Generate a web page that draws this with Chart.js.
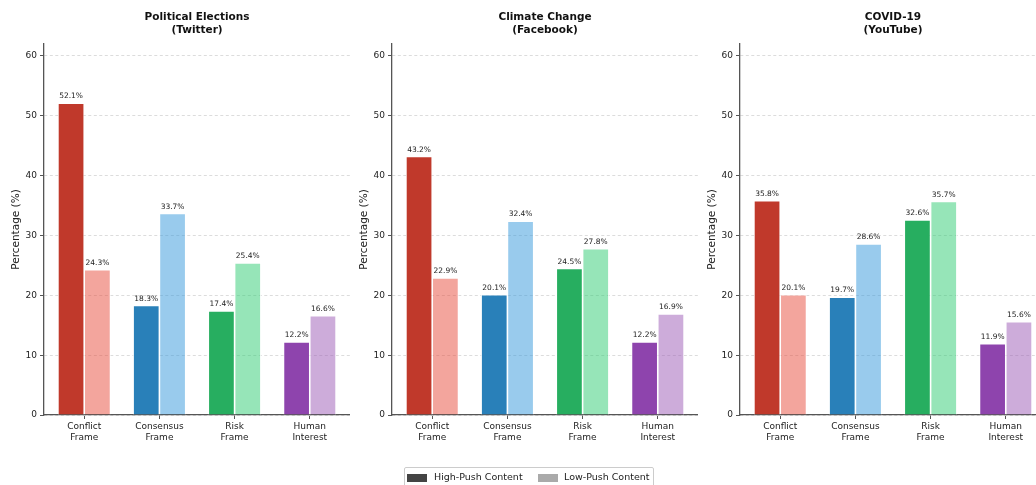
<!DOCTYPE html>
<html>
<head>
<meta charset="utf-8">
<script src="https://cdn.jsdelivr.net/npm/chart.js@4.4.1/dist/chart.umd.min.js"></script>
<style>
  html, body { margin: 0; padding: 0; background: #fff; }
  body { width: 1036px; height: 485px; overflow: hidden; position: relative; font-family: "DejaVu Sans", sans-serif; }
  .panel { position: absolute; top: 0; width: 350px; height: 460px; }
  #legend { position: absolute; left: 404px; top: 467px; width: 248px; height: 22px; border: 1px solid #ccc; border-radius: 2px; font-size: 9.5px; color: #222; }
  #legend span.sw { position: absolute; top: 6px; width: 20px; height: 8px; }
  #legend span.tx { position: absolute; top: 3px; white-space: nowrap; }
</style>
</head>
<body>
<div class="panel" style="left:0px"><canvas id="c0"></canvas></div>
<div class="panel" style="left:348px"><canvas id="c1"></canvas></div>
<div class="panel" style="left:696px"><canvas id="c2"></canvas></div>
<div id="legend">
  <span class="sw" style="left:2px;background:#444"></span><span class="tx" style="left:29px">High-Push Content</span>
  <span class="sw" style="left:133px;background:#aaa"></span><span class="tx" style="left:159px">Low-Push Content</span>
</div>
<script>
// categories and series
const categories = [['Conflict', 'Frame'], ['Consensus', 'Frame'], ['Risk', 'Frame'], ['Human', 'Interest']];
const panelTitles = [['Political Elections', '(Twitter)'], ['Climate Change', '(Facebook)'], ['COVID-19', '(YouTube)']];

const twitterHigh = [52.1, 18.3, 17.4, 12.2];
const twitterLow = [24.3, 33.7, 25.4, 16.6];
const facebookHigh = [43.2, 20.1, 24.5, 12.2];
const facebookLow = [22.9, 32.4, 27.8, 16.9];
const youtubeHigh = [35.8, 19.7, 32.6, 11.9];
const youtubeLow = [20.1, 28.6, 35.7, 15.6];

const yTicks = [0, 10, 20, 30, 40, 50, 60];

const highColors = ['#c0392b', '#2980b9', '#27ae60', '#8e44ad'];
const lowColors = ['rgba(231,76,60,0.5)', 'rgba(52,152,219,0.5)', 'rgba(46,204,113,0.5)', 'rgba(155,89,182,0.5)'];

const font = 'DejaVu Sans';

// draws the "xx.x%" labels above each bar
const valueLabels = {
  id: 'valueLabels',
  afterDatasetsDraw(chart) {
    const ctx = chart.ctx;
    ctx.save();
    ctx.font = '7.5px "' + font + '"';
    ctx.fillStyle = '#222';
    ctx.textAlign = 'center';
    ctx.textBaseline = 'bottom';
    chart.data.datasets.forEach((ds, i) => {
      chart.getDatasetMeta(i).data.forEach((bar, j) => {
        ctx.fillText(ds.data[j].y.toFixed(1) + '%', bar.x, bar.y - 3);
      });
    });
    ctx.restore();
  }
};

// two-line bold title centred over the plot area
const panelTitle = {
  id: 'panelTitle',
  afterDraw(chart, args, opts) {
    const ctx = chart.ctx;
    const cx = (chart.chartArea.left + chart.chartArea.right) / 2;
    ctx.save();
    ctx.font = 'bold 10.5px "' + font + '"';
    ctx.fillStyle = '#111';
    ctx.textAlign = 'center';
    ctx.textBaseline = 'middle';
    opts.lines.forEach((t, i) => ctx.fillText(t, cx, 17 + i * 13));
    ctx.restore();
  }
};

function toPoints(values) {
  return values.map((v, i) => ({ x: i, y: v }));
}

function makeChart(id, title, high, low) {
  return new Chart(document.getElementById(id), {
    type: 'bar',
    data: {
      datasets: [
        { label: 'High-Push Content', data: toPoints(high), backgroundColor: highColors, borderColor: '#fff', borderWidth: 0.8 },
        { label: 'Low-Push Content', data: toPoints(low), backgroundColor: lowColors, borderColor: '#fff', borderWidth: 0.8 }
      ]
    },
    options: {
      responsive: true,
      maintainAspectRatio: false,
      animation: false,
      layout: { padding: { left: 0, right: 0, top: 44, bottom: 0 } },
      datasets: { bar: { categoryPercentage: 0.7, barPercentage: 1.0 } },
      plugins: {
        legend: { display: false },
        tooltip: { enabled: false },
        title: { display: false },
        panelTitle: { lines: title }
      },
      scales: {
        x: {
          type: 'linear',
          min: -0.535,
          max: 3.535,
          offset: false,
          afterFit: s => { s.height = 45; },
          afterBuildTicks: s => { s.ticks = categories.map((c, i) => ({ value: i })); },
          grid: { display: true, offset: false, drawOnChartArea: false, drawTicks: true, tickLength: 4, tickColor: '#555' },
          border: { display: true, color: '#555', width: 1.3 },
          ticks: {
            color: '#222',
            font: { family: font, size: 9, lineHeight: 1.2 },
            padding: 2,
            maxRotation: 0,
            autoSkip: false,
            callback: v => categories[v]
          }
        },
        y: {
          min: 0,
          max: 62,
          afterFit: s => { s.width = 44; },
          afterBuildTicks: s => { s.ticks = yTicks.map(v => ({ value: v })); },
          grid: { color: '#dcdcdc', tickColor: '#555', tickLength: 4, tickBorderDash: [] },
          border: { display: true, color: '#555', width: 1.3, dash: [3, 2.5] },
          ticks: { color: '#222', font: { family: font, size: 9 }, padding: 3 },
          title: { display: true, text: 'Percentage (%)', color: '#222', font: { family: font, size: 10.5 }, padding: { top: 10, bottom: 0 } }
        }
      }
    },
    plugins: [valueLabels, panelTitle]
  });
}

makeChart('c0', panelTitles[0], twitterHigh, twitterLow);
makeChart('c1', panelTitles[1], facebookHigh, facebookLow);
makeChart('c2', panelTitles[2], youtubeHigh, youtubeLow);
</script>
</body>
</html>
